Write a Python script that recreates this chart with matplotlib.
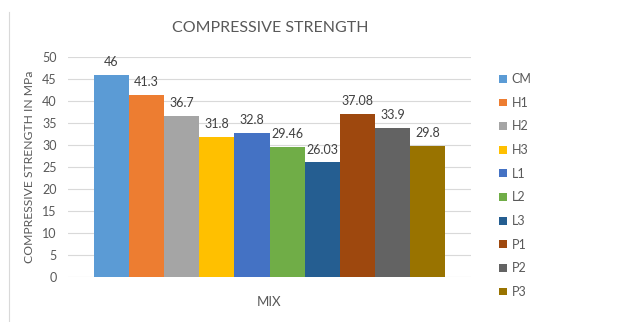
import matplotlib
matplotlib.use("Agg")
import matplotlib.pyplot as plt
from matplotlib.patches import Patch
from matplotlib.lines import Line2D

mixes = ["CM", "H1", "H2", "H3", "L1", "L2", "L3", "P1", "P2", "P3"]
strength = [46, 41.3, 36.7, 31.8, 32.8, 29.46, 26.03, 37.08, 33.9, 29.8]
labels = ["46", "41.3", "36.7", "31.8", "32.8", "29.46", "26.03", "37.08", "33.9", "29.8"]
colors = ["#5B9BD5", "#ED7D31", "#A5A5A5", "#FFC000", "#4472C4",
          "#70AD47", "#255E91", "#9E480E", "#636363", "#997300"]
yticks = [0, 5, 10, 15, 20, 25, 30, 35, 40, 45, 50]

plt.rcParams['font.family'] = ['Lato', 'DejaVu Sans']
txt = "#595959"

fig = plt.figure(figsize=(6.24, 3.22), dpi=100)
ax = fig.add_axes([68/624, 1-277/322, 403/624, 220/322])

xs = list(range(len(mixes)))
ax.bar(xs, strength, width=1.0, color=colors, zorder=3)
for x, v, l in zip(xs, strength, labels):
    ax.annotate(l, (x, v), xytext=(0, 5), textcoords="offset points",
                ha="center", va="bottom", fontsize=9, color="#404040")

ax.set_xlim(-0.5 - 0.74, 9.5 + 0.74)
ax.set_ylim(0, 50)
ax.set_yticks(yticks)
ax.set_xticks([])
ax.yaxis.grid(True, color="#d9d9d9", linewidth=0.8, zorder=0)
for s in ax.spines.values():
    s.set_visible(False)
ax.tick_params(axis="y", length=0, labelsize=9, labelcolor=txt, pad=8)
ax.set_ylabel("COMPRESSIVE STRENGTH IN MPa", fontsize=8.7, color=txt, labelpad=5)
ax.set_xlabel("MIX", fontsize=9.5, color=txt, labelpad=14)

fig.text(270/624, 1-28/322, "COMPRESSIVE STRENGTH", ha="center", va="center",
         fontsize=11.5, color=txt)

handles = [Patch(facecolor=c, edgecolor="none") for c in colors]
fig.legend(handles, mixes, loc="upper left", bbox_to_anchor=(488/624, 1-62/322),
           frameon=False, fontsize=9, handlelength=0.6, handleheight=0.6,
           handletextpad=0.4, labelspacing=0.93, labelcolor=txt)

fig.add_artist(Line2D([9/624, 9/624], [0, 1-12/322], color="#d9d9d9", linewidth=0.8))

fig.savefig("out.png", dpi=100)
